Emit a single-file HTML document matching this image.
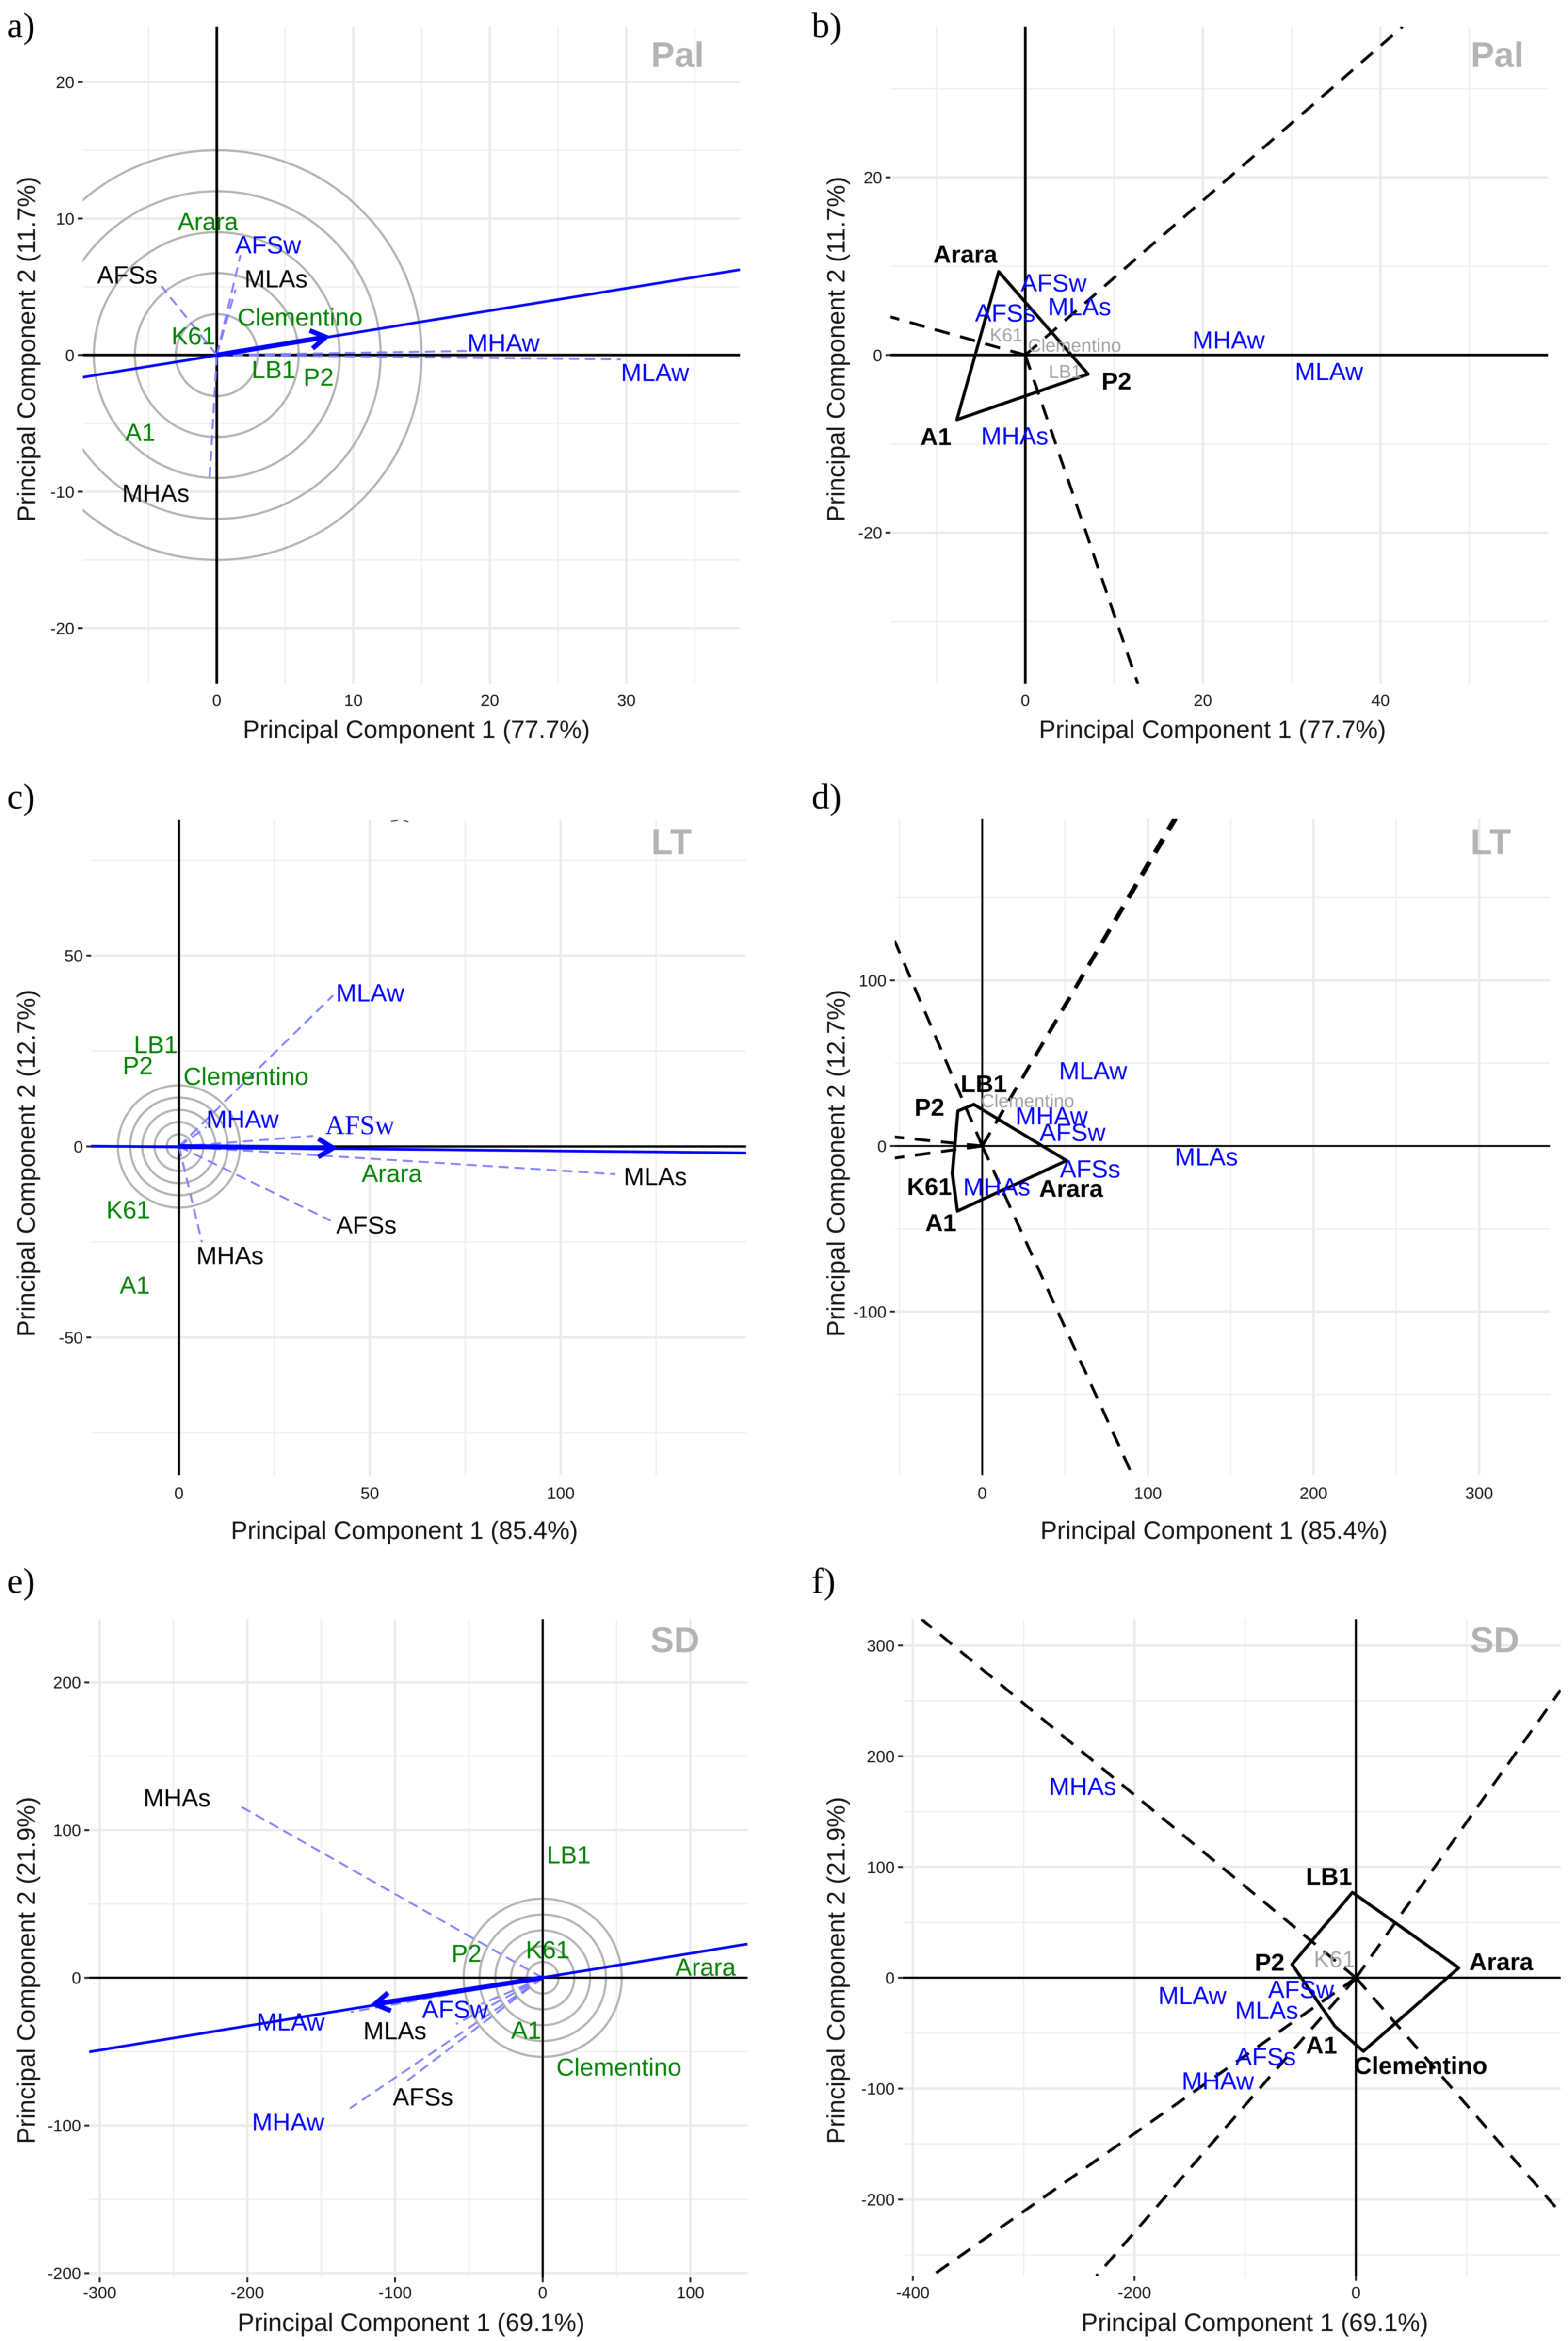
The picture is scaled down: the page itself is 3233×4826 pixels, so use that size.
<!DOCTYPE html>
<html lang="en">
<head>
<meta charset="utf-8">
<title>PCA biplots</title>
<style>
html,body{margin:0;padding:0;background:#fff;width:3233px;height:4826px;overflow:hidden}
svg{display:block;filter:blur(0.9px)}
</style>
</head>
<body>
<svg id="figure" xmlns="http://www.w3.org/2000/svg" width="3233" height="4826" viewBox="0 0 3233 4826" font-family="'Liberation Sans',sans-serif"></svg>
<script>
/* ---------- Panel a: Pal, mean vs stability view ---------- */
const aXTicks=[0,10,20,30];
const aYTicks=[-20,-10,0,10,20];
const aXMinor=[-5,5,15,25,35];
const aYMinor=[-15,-5,5,15];
const aNames=['Arara','AFSw','AFSs','MLAs','Clementino','K61','MHAw','MLAw','LB1','P2','A1','MHAs'];
const aPc1=[-0.65,3.76,-6.56,4.34,6.1,-1.71,21.0,32.1,4.16,7.46,-5.6,-4.47];
const aPc2=[9.8,8.1,5.89,5.6,2.8,1.43,0.92,-1.25,-1.04,-1.58,-5.64,-10.1];
const aRoles=['genotype','env-w','env-s','env-s','genotype','genotype','env-w','env-w','genotype','genotype','genotype','env-s'];
const aProjX=[1.74,-4.06,1.37,18.3,29.6,-0.54];
const aProjY=[7.33,5.05,4.8,0.3,-0.31,-9.23];
const aAxisX=[-9.82,38.33];
const aAxisY=[-1.62,6.25];
const aArrow=[7.98,1.32];
const aRings=[3,6,9,12,15];

/* ---------- Panel b: Pal, which-won-where ---------- */
const bXTicks=[0,20,40];
const bYTicks=[-20,0,20];
const bXMinor=[-10,10,30,50];
const bYMinor=[-30,-10,10,30];
const bNames=['Arara','AFSw','MLAs','AFSs','K61','Clementino','MHAw','MLAw','LB1','P2','A1','MHAs'];
const bPc1=[-6.75,3.19,6.11,-2.26,-2.15,5.55,22.9,34.2,4.48,10.27,-10.07,-1.19];
const bPc2=[11.39,8.16,5.49,4.76,2.31,1.14,1.75,-1.82,-1.82,-2.88,-9.13,-9.07];
const bRoles=['vertex','env','env','env','inner','inner','env','env','inner','vertex','vertex','env'];
const bHullX=[-2.99,7.07,-7.71];
const bHullY=[9.39,-2.15,-7.28];
const bRayX=[42.5,-15.2,12.69];
const bRayY=[37,4.3,-37.05];

/* ---------- Panel c: LT, mean vs stability view ---------- */
const cXTicks=[0,50,100];
const cYTicks=[-50,0,50];
const cXMinor=[25,75,125];
const cYMinor=[-75,-25,25,75];
const cNames=['LB1','P2','Clementino','MLAw','MHAw','AFSw','Arara','MLAs','AFSs','MHAs','K61','A1'];
const cPc1=[-6.06,-10.78,17.57,50.1,16.66,47.4,55.78,124.8,49.1,13.37,-13.28,-11.57];
const cPc2=[26.77,21.26,18.5,40.3,7.22,5.78,-6.96,-7.75,-20.5,-28.5,-16.5,-36.2];
const cRoles=['genotype','genotype','genotype','env-w','env-w','env-serif','genotype','env-s','env-s','env-s','genotype','genotype'];
const cProjX=[40.4,35.16,114.3,39.76,6.02,7.2];
const cProjY=[39.6,2.76,-7.23,-19.43,-25.08,5.12];
const cAxisX=[-23,148.6];
const cAxisY=[0.1,-1.7];
const cArrow=[40.4,-0.4];
const cRings=[3.2,6.4,9.6,12.8,16];

/* ---------- Panel d: LT, which-won-where ---------- */
const dXTicks=[0,100,200,300];
const dYTicks=[-100,0,100];
const dXMinor=[-50,50,150,250];
const dYMinor=[-150,-50,50,150];
const dNames=['LB1','P2','Clementino','MLAw','MHAw','AFSw','MLAs','AFSs','Arara','MHAs','K61','A1'];
const dPc1=[0.9,-31.9,27.4,66.9,41.9,54.5,135.3,65.1,53.6,8.73,-31.9,-25];
const dPc2=[37.8,23.6,27.5,45.7,18.4,8.46,-6.35,-13.6,-25.4,-24.5,-24.2,-46];
const dRoles=['vertex','vertex','inner','env','env','env','env','env','vertex','env','vertex','vertex'];
const dHullX=[-5.1,-14.76,-18.07,-15.05,50.9];
const dHullY=[25.1,21.2,-16.6,-39.3,-8.8];
const dRayX=[117.2,115.6,-53,90.7,-53,-53];
const dRayY=[197.6,197.6,124,-198.8,5.45,-7.26];

/* ---------- Panel e: SD, mean vs stability view ---------- */
const eXTicks=[-300,-200,-100,0,100];
const eYTicks=[-200,-100,0,100,200];
const eXMinor=[-250,-150,-50,50];
const eYMinor=[-150,-50,50,150];
const eNames=['MHAs','LB1','P2','K61','Arara','AFSw','MLAw','MLAs','A1','Clementino','AFSs','MHAw'];
const ePc1=[-247.7,17.6,-51.6,3.4,110.3,-59.4,-170.7,-100.1,-11.2,51.6,-81.1,-172.4];
const ePc2=[122.1,83.4,16.8,19.2,7.4,-21.2,-29.6,-35.6,-35.3,-60.2,-80.4,-97.5];
const eRoles=['env-s','genotype','genotype','genotype','genotype','env-w','env-w','env-s','genotype','genotype','env-s','env-w'];
const eProjX=[-204.6,-130.6,-94.3,-58.7,-130,-41.7];
const eProjY=[116.1,-88.4,-71.6,-31.3,-23.2,-17.8];
const eAxisX=[-307.1,138.7];
const eAxisY=[-50.1,22.9];
const eArrow=[-113.7,-17.8];
const eRings=[10.7,21.4,32.1,42.8,53.5];

/* ---------- Panel f: SD, which-won-where ---------- */
const fXTicks=[-400,-200,0];
const fYTicks=[-200,-100,0,100,200,300];
const fXMinor=[-300,-100,100];
const fYMinor=[-250,-150,-50,50,150,250];
const fNames=['MHAs','LB1','P2','K61','Arara','AFSw','MLAw','MLAs','AFSs','A1','MHAw','Clementino'];
const fPc1=[-246.8,-24.3,-77.9,-19.4,131.1,-49.6,-147.7,-80.6,-81.5,-31.1,-124.7,58.5];
const fPc2=[173.1,91.9,14.4,17.1,14.8,-10.3,-15.7,-29.1,-70.8,-60.5,-92.8,-78.9];
const fRoles=['env','vertex','vertex','inner-large','vertex','env','env','env','env','vertex','env','vertex'];
const fHullX=[-3.2,92.8,6.7,-18.9,-57.7];
const fHullY=[77.1,9,-66.3,-43.9,12.1];
const fRayX=[-392.3,184.7,184.7,-382.8,-234.2];
const fRayY=[323.8,-212.1,259.7,-269,-269];

const SVGNS='http://www.w3.org/2000/svg';
const root=document.getElementById('figure');
const BLUE='#0000ff',DASHBLUE='#8080ff',GREEN='#008000',RING='#b2b2b2',TITLEGRAY='#b3b3b3';
const SANS="'Liberation Sans',sans-serif",SERIF="'Liberation Serif',serif";
const roleStyle={
  'genotype':{fill:GREEN,size:51,weight:'normal',family:SANS},
  'env-w':{fill:BLUE,size:51,weight:'normal',family:SANS},
  'env-s':{fill:'#000',size:51,weight:'normal',family:SANS},
  'env':{fill:BLUE,size:51,weight:'normal',family:SANS},
  'env-serif':{fill:BLUE,size:56,weight:'normal',family:SERIF},
  'vertex':{fill:'#000',size:50.5,weight:'bold',family:SANS},
  'inner':{fill:'#a0a0a0',size:38,weight:'normal',family:SANS},
  'inner-large':{fill:'#a6a6a6',size:48,weight:'normal',family:SANS}
};

function make(tag,name,parent,props){
  const el=document.createElementNS(SVGNS,tag);
  
  
  for(const k in props){el.setAttribute(k,props[k]);}
  parent.appendChild(el);
  return el;
}
function line(name,parent,x1,y1,x2,y2,stroke,width,extra){
  return make('line',name,parent,Object.assign({x1:x1,y1:y1,x2:x2,y2:y2,stroke:stroke,'stroke-width':width},extra||{}));
}
function label(name,parent,str,x,y,size,fill,extra){
  const t=make('text',name,parent,Object.assign({x:x,y:y,'font-size':size,fill:fill},extra||{}));
  t.textContent=str;
  return t;
}

function drawPanel(p){
  const g=make('g','panel-'+p.id,root,{});
  const sx=function(v){return p.ox+p.k*v;};
  const sy=function(v){return p.oy-p.k*v;};
  const clipId='clip-'+p.id;
  const defs=make('defs','clip-defs-'+p.id,g,{});
  const cp=make('clipPath','plot-clip-'+p.id,defs,{id:clipId});
  make('rect','plot-clip-rect-'+p.id,cp,{x:p.left,y:p.top,width:p.right-p.left,height:p.bottom-p.top});

  const grid=make('g','gridlines',g,{});
  p.xMinor.forEach(function(v){line('x-minor-gridline',grid,sx(v),p.top,sx(v),p.bottom,'#efefef',3);});
  p.yMinor.forEach(function(v){line('y-minor-gridline',grid,p.left,sy(v),p.right,sy(v),'#efefef',3);});
  p.xTicks.forEach(function(v){line('x-major-gridline',grid,sx(v),p.top,sx(v),p.bottom,'#ebebeb',5);});
  p.yTicks.forEach(function(v){line('y-major-gridline',grid,p.left,sy(v),p.right,sy(v),'#ebebeb',5);});

  const yt=make('g','y-axis-ticks',g,{});
  p.yTicks.forEach(function(v){
    line('y-tick-mark',yt,p.left-10,sy(v),p.left,sy(v),'#222',4);
    label('y-tick-label',yt,String(v),p.left-17,sy(v)+12.4,34.5,'#111',{'text-anchor':'end'});
  });
  const xt=make('g','x-axis-ticks',g,{});
  p.xTicks.forEach(function(v){
    if(p.xTickMarks){line('x-tick-mark',xt,sx(v),p.bottom,sx(v),p.bottom+10,'#222',4);}
    label('x-tick-label',xt,String(v),sx(v),p.xTickY+12.4,34.5,'#111',{'text-anchor':'middle'});
  });

  const body=make('g','plot-body',g,{'clip-path':'url(#'+clipId+')'});

  if(p.rings){
    p.rings.forEach(function(r){
      make('circle','concentric-ring',body,{cx:sx(0),cy:sy(0),r:r*p.k,fill:'none',stroke:RING,'stroke-width':4.5});
    });
  }

  line('vertical-zero-line',body,sx(0),p.top,sx(0),p.bottom,'#000',p.zeroW);
  line('horizontal-zero-line',body,p.left,sy(0),p.right,sy(0),'#000',p.zeroW);

  if(p.projX){
    p.projX.forEach(function(v,i){
      line('env-projection-line',body,sx(0),sy(0),sx(v),sy(p.projY[i]),DASHBLUE,4,{'stroke-dasharray':'21 12'});
    });
  }
  if(p.axisX){
    line('stability-axis-line',body,sx(p.axisX[0]),sy(p.axisY[0]),sx(p.axisX[1]),sy(p.axisY[1]),BLUE,5.5);
    const tipX=sx(p.arrow[0]),tipY=sy(p.arrow[1]);
    line('mean-axis-arrow',body,sx(0),sy(0),tipX,tipY,BLUE,10);
    const ang=Math.atan2(tipY-sy(0),tipX-sx(0));
    const barb=36,spread=0.55;
    const pts=[
      (tipX-barb*Math.cos(ang-spread))+','+(tipY-barb*Math.sin(ang-spread)),
      tipX+','+tipY,
      (tipX-barb*Math.cos(ang+spread))+','+(tipY-barb*Math.sin(ang+spread))
    ].join(' ');
    make('polyline','mean-axis-arrowhead',body,{points:pts,fill:'none',stroke:BLUE,'stroke-width':10,'stroke-linejoin':'miter'});
  }
  if(p.rayX){
    p.rayX.forEach(function(v,i){
      line('sector-ray',body,sx(0),sy(0),sx(v),sy(p.rayY[i]),'#000',6,{'stroke-dasharray':'32 22'});
    });
  }
  if(p.hullX){
    const pts=p.hullX.map(function(v,i){return sx(v)+','+sy(p.hullY[i]);}).join(' ');
    make('polygon','convex-hull',body,{points:pts,fill:'none',stroke:'#000','stroke-width':6.5,'stroke-linejoin':'round'});
  }
  if(p.id==='c'){
    line('clipped-mark',body,806,1693,820,1691,'#444',2.5);
    line('clipped-mark',body,832,1691,842,1694,'#444',2.5);
  }

  const labs=make('g','point-labels',g,{});
  p.names.forEach(function(n,i){
    const st=roleStyle[p.roles[i]];
    label('label-'+n.toLowerCase(),labs,n,sx(p.pc1[i]),sy(p.pc2[i])+st.size*0.36,st.size,st.fill,
      {'text-anchor':'middle','font-weight':st.weight,'font-family':st.family});
  });

  label('trait-title',g,p.title,p.titleX,p.titleY+26,73,TITLEGRAY,{'text-anchor':'middle','font-weight':'bold'});
  label('x-axis-title',g,p.xTitle,p.xTitleX,p.xTitleY+18.5,51.5,'#111',{'text-anchor':'middle'});
  label('y-axis-title',g,p.yTitle,0,0,51.5,'#111',{'text-anchor':'middle',
    transform:'translate('+(p.yTitleX+18.5)+','+p.yTitleY+') rotate(-90)'});
  label('panel-letter',g,p.letter,p.letterX,p.letterY,74,'#000',{'font-family':SERIF});
}

drawPanel({id:'a',letter:'a)',letterX:14.5,letterY:77,title:'Pal',titleX:1397,titleY:112,
  ox:447,oy:732,k:28.15,left:170.5,right:1526,top:55,bottom:1410,zeroW:5.5,xTickY:1443,
  xTitle:'Principal Component 1 (77.7%)',yTitle:'Principal Component 2 (11.7%)',
  xTitleX:858.6,xTitleY:1503,yTitleX:54,yTitleY:720,
  xTicks:aXTicks,yTicks:aYTicks,xMinor:aXMinor,yMinor:aYMinor,names:aNames,pc1:aPc1,pc2:aPc2,roles:aRoles,
  projX:aProjX,projY:aProjY,axisX:aAxisX,axisY:aAxisY,arrow:aArrow,rings:aRings});

drawPanel({id:'b',letter:'b)',letterX:1673.5,letterY:77,title:'Pal',titleX:3087,titleY:112,
  ox:2114,oy:732,k:18.31,left:1836,right:3192,top:55,bottom:1410,zeroW:5.5,xTickY:1443,
  xTitle:'Principal Component 1 (77.7%)',yTitle:'Principal Component 2 (11.7%)',
  xTitleX:2500,xTitleY:1503,yTitleX:1723,yTitleY:720,
  xTicks:bXTicks,yTicks:bYTicks,xMinor:bXMinor,yMinor:bYMinor,names:bNames,pc1:bPc1,pc2:bPc2,roles:bRoles,
  hullX:bHullX,hullY:bHullY,rayX:bRayX,rayY:bRayY});

drawPanel({id:'c',letter:'c)',letterX:14.5,letterY:1667,title:'LT',titleX:1384.5,titleY:1735,
  ox:369,oy:2363.5,k:7.87,left:188,right:1538.4,top:1690,bottom:3041,zeroW:4.8,xTickY:3077.5,
  xTitle:'Principal Component 1 (85.4%)',yTitle:'Principal Component 2 (12.7%)',
  xTitleX:833.8,xTitleY:3154,yTitleX:53.7,yTitleY:2398,
  xTicks:cXTicks,yTicks:cYTicks,xMinor:cXMinor,yMinor:cYMinor,names:cNames,pc1:cPc1,pc2:cPc2,roles:cRoles,
  projX:cProjX,projY:cProjY,axisX:cAxisX,axisY:cAxisY,arrow:cArrow,rings:cRings});

drawPanel({id:'d',letter:'d)',letterX:1673.5,letterY:1667,title:'LT',titleX:3073.6,titleY:1735,
  ox:2025.3,oy:2362.5,k:3.415,left:1845,right:3196,top:1688,bottom:3041,zeroW:3.8,xTickY:3077.5,
  xTitle:'Principal Component 1 (85.4%)',yTitle:'Principal Component 2 (12.7%)',
  xTitleX:2503,xTitleY:3154,yTitleX:1723,yTitleY:2398,
  xTicks:dXTicks,yTicks:dYTicks,xMinor:dXMinor,yMinor:dYMinor,names:dNames,pc1:dPc1,pc2:dPc2,roles:dRoles,
  hullX:dHullX,hullY:dHullY,rayX:dRayX,rayY:dRayY});

drawPanel({id:'e',letter:'e)',letterX:14.5,letterY:3284,title:'SD',titleX:1391.7,titleY:3380,
  ox:1119,oy:4077.3,k:3.045,left:184,right:1541.5,top:3338,bottom:4695,zeroW:4.5,xTickY:4725.6,xTickMarks:true,
  xTitle:'Principal Component 1 (69.1%)',yTitle:'Principal Component 2 (21.9%)',
  xTitleX:847.7,xTitleY:4787,yTitleX:53.7,yTitleY:4062,
  xTicks:eXTicks,yTicks:eYTicks,xMinor:eXMinor,yMinor:eYMinor,names:eNames,pc1:ePc1,pc2:ePc2,roles:eRoles,
  projX:eProjX,projY:eProjY,axisX:eAxisX,axisY:eAxisY,arrow:eArrow,rings:eRings});

drawPanel({id:'f',letter:'f)',letterX:1673.5,letterY:3284,title:'SD',titleX:3081.8,titleY:3380,
  ox:2795.8,oy:4077.3,k:2.284,left:1861.7,right:3218,top:3338,bottom:4692,zeroW:4.5,xTickY:4725.6,xTickMarks:true,
  xTitle:'Principal Component 1 (69.1%)',yTitle:'Principal Component 2 (21.9%)',
  xTitleX:2587,xTitleY:4787,yTitleX:1723,yTitleY:4062,
  xTicks:fXTicks,yTicks:fYTicks,xMinor:fXMinor,yMinor:fYMinor,names:fNames,pc1:fPc1,pc2:fPc2,roles:fRoles,
  hullX:fHullX,hullY:fHullY,rayX:fRayX,rayY:fRayY});
</script>
</body>
</html>
